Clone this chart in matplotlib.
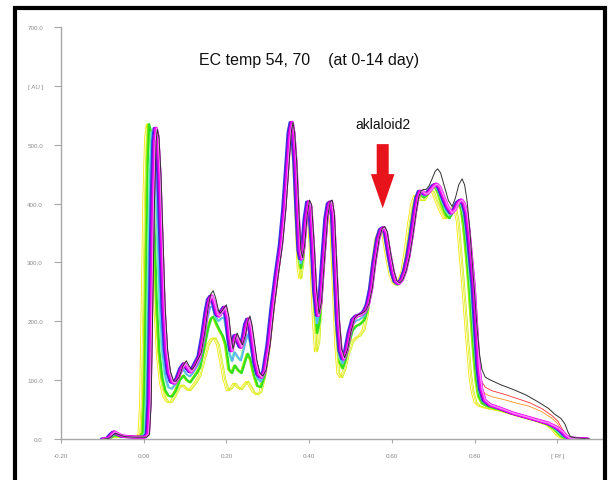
import numpy as np
import matplotlib.pyplot as plt
from matplotlib.patches import Rectangle, FancyArrow

plt.rcParams['font.family'] = ['Liberation Sans', 'DejaVu Sans']

# densitogram traces: (Rf, AU)
YELLOW = [(-0.100, 0), (-0.085, 1), (-0.070, 3), (-0.040, 3), (-0.020, 4), (-0.010, 8), (-0.006, 60),
          (-0.002, 240), (0.002, 410), (0.006, 510), (0.010, 535), (0.014, 520), (0.019, 450), (0.024, 330),
          (0.029, 220), (0.035, 140), (0.042, 95), (0.050, 72), (0.058, 63), (0.066, 62), (0.075, 72),
          (0.085, 86), (0.094, 92), (0.103, 86), (0.111, 82), (0.120, 90), (0.128, 98), (0.136, 108),
          (0.146, 135), (0.156, 160), (0.165, 170), (0.172, 172), (0.180, 160), (0.188, 130), (0.196, 100),
          (0.204, 82), (0.212, 86), (0.220, 95), (0.228, 88), (0.236, 84), (0.244, 92), (0.251, 98),
          (0.258, 90), (0.266, 80), (0.275, 75), (0.283, 80), (0.292, 105), (0.302, 150), (0.312, 215),
          (0.322, 272), (0.332, 328), (0.340, 395), (0.347, 470), (0.352, 525), (0.356, 535), (0.360, 515),
          (0.365, 455), (0.370, 370), (0.375, 290), (0.379, 272), (0.384, 295), (0.390, 355), (0.395, 390),
          (0.400, 378), (0.406, 300), (0.412, 200), (0.417, 148), (0.423, 165), (0.430, 250), (0.438, 350),
          (0.444, 390), (0.449, 395), (0.454, 365), (0.460, 260), (0.466, 160), (0.471, 112), (0.478, 104),
          (0.486, 118), (0.495, 145), (0.505, 165), (0.514, 172), (0.522, 175), (0.532, 185), (0.540, 210),
          (0.548, 255), (0.556, 305), (0.563, 340), (0.570, 352), (0.575, 353), (0.581, 343), (0.589, 308),
          (0.597, 280), (0.604, 266), (0.610, 262), (0.618, 268), (0.626, 285), (0.634, 320), (0.642, 365),
          (0.650, 400), (0.657, 414), (0.664, 413), (0.670, 405), (0.678, 405), (0.686, 415), (0.694, 423),
          (0.700, 420), (0.708, 405), (0.718, 388), (0.728, 374), (0.736, 378), (0.745, 392), (0.753, 395),
          (0.760, 370), (0.766, 320), (0.772, 270), (0.778, 215), (0.784, 160), (0.790, 110), (0.796, 80),
          (0.803, 62), (0.812, 56), (0.830, 52), (0.860, 48), (0.890, 42), (0.920, 36), (0.950, 30),
          (0.975, 24), (0.990, 16), (1.000, 7), (1.010, 2), (1.025, 0)]

GREEN = [(-0.100, 0), (-0.085, 1), (-0.075, 5), (-0.068, 6), (-0.055, 4), (-0.030, 3), (-0.010, 4),
         (-0.004, 10), (0.000, 80), (0.004, 280), (0.008, 470), (0.011, 535), (0.015, 525), (0.020, 460),
         (0.025, 345), (0.030, 230), (0.036, 150), (0.043, 105), (0.051, 82), (0.059, 73), (0.067, 72),
         (0.076, 82), (0.086, 100), (0.095, 108), (0.103, 100), (0.111, 96), (0.119, 104), (0.127, 112),
         (0.135, 122), (0.145, 155), (0.155, 190), (0.162, 205), (0.168, 208), (0.175, 195), (0.182, 185),
         (0.190, 175), (0.197, 160), (0.205, 118), (0.212, 112), (0.219, 125), (0.227, 117), (0.235, 112),
         (0.243, 130), (0.250, 145), (0.257, 135), (0.265, 110), (0.274, 90), (0.282, 88), (0.291, 108),
         (0.301, 155), (0.311, 220), (0.321, 276), (0.331, 330), (0.339, 392), (0.346, 465), (0.352, 528),
         (0.356, 537), (0.360, 518), (0.365, 462), (0.370, 380), (0.375, 305), (0.379, 290), (0.384, 310),
         (0.390, 365), (0.396, 398), (0.401, 388), (0.407, 315), (0.413, 225), (0.418, 180), (0.424, 200),
         (0.431, 275), (0.439, 362), (0.445, 396), (0.450, 400), (0.455, 373), (0.461, 275), (0.467, 180),
         (0.473, 130), (0.480, 120), (0.487, 135), (0.495, 162), (0.504, 185), (0.513, 192), (0.522, 195),
         (0.532, 202), (0.540, 220), (0.548, 258), (0.556, 302), (0.564, 340), (0.571, 354), (0.577, 357),
         (0.583, 347), (0.591, 312), (0.599, 282), (0.606, 266), (0.612, 262), (0.620, 268), (0.628, 285),
         (0.636, 313), (0.644, 352), (0.652, 392), (0.658, 412), (0.664, 419), (0.670, 414), (0.676, 410),
         (0.683, 414), (0.691, 422), (0.698, 428), (0.704, 428), (0.711, 418), (0.720, 398), (0.730, 380),
         (0.738, 375), (0.746, 385), (0.754, 398), (0.761, 400), (0.767, 390), (0.773, 360), (0.779, 315),
         (0.785, 265), (0.791, 205), (0.797, 145), (0.803, 98), (0.809, 72), (0.818, 60), (0.832, 55),
         (0.860, 50), (0.890, 43), (0.920, 37), (0.950, 31), (0.975, 25), (0.990, 18), (1.000, 11),
         (1.010, 4), (1.020, 1), (1.035, 0)]

CYAN = [(-0.100, 0), (-0.085, 1), (-0.075, 7), (-0.068, 8), (-0.055, 4), (-0.030, 3), (-0.005, 3),
        (0.003, 10), (0.007, 90), (0.011, 300), (0.015, 460), (0.019, 522), (0.023, 515), (0.028, 455),
        (0.033, 340), (0.038, 228), (0.044, 150), (0.051, 108), (0.059, 88), (0.067, 85), (0.076, 93),
        (0.086, 110), (0.095, 118), (0.103, 110), (0.111, 106), (0.119, 113), (0.127, 122), (0.135, 132),
        (0.144, 165), (0.153, 205), (0.160, 224), (0.166, 226), (0.173, 208), (0.180, 200), (0.187, 205),
        (0.194, 207), (0.201, 180), (0.207, 145), (0.213, 132), (0.219, 148), (0.226, 140), (0.234, 133),
        (0.242, 155), (0.250, 178), (0.257, 165), (0.264, 135), (0.273, 105), (0.282, 97), (0.291, 112),
        (0.301, 158), (0.311, 223), (0.321, 278), (0.331, 330), (0.339, 392), (0.346, 463), (0.352, 528),
        (0.356, 538), (0.360, 520), (0.365, 466), (0.370, 385), (0.375, 312), (0.379, 298), (0.384, 318),
        (0.390, 370), (0.396, 401), (0.401, 392), (0.407, 322), (0.413, 238), (0.418, 196), (0.424, 216),
        (0.431, 288), (0.439, 368), (0.445, 398), (0.450, 402), (0.455, 377), (0.461, 283), (0.467, 190),
        (0.473, 140), (0.480, 128), (0.487, 142), (0.495, 171), (0.504, 194), (0.513, 201), (0.522, 203),
        (0.532, 209), (0.540, 224), (0.548, 256), (0.556, 301), (0.565, 340), (0.572, 356), (0.578, 358),
        (0.584, 349), (0.592, 313), (0.600, 283), (0.607, 267), (0.613, 263), (0.621, 269), (0.629, 285),
        (0.637, 311), (0.645, 348), (0.653, 388), (0.659, 411), (0.665, 420), (0.671, 417), (0.677, 413),
        (0.684, 416), (0.692, 423), (0.699, 430), (0.705, 431), (0.712, 423), (0.721, 405), (0.731, 388),
        (0.740, 380), (0.748, 388), (0.756, 400), (0.764, 403), (0.770, 394), (0.776, 375), (0.782, 335),
        (0.788, 285), (0.794, 230), (0.800, 165), (0.806, 112), (0.812, 80), (0.820, 64), (0.834, 57),
        (0.860, 51), (0.890, 44), (0.920, 38), (0.950, 32), (0.975, 26), (0.990, 20), (1.000, 14),
        (1.010, 7), (1.020, 2), (1.035, 0)]

PURPLE_HEAD = [(-0.100, 0), (-0.088, 1), (-0.080, 8), (-0.073, 12), (-0.066, 9), (-0.055, 5), (-0.040, 4),
               (-0.020, 3), (0.000, 3), (0.008, 8), (0.012, 60), (0.016, 230), (0.020, 400), (0.024, 505),
               (0.027, 528), (0.031, 515), (0.036, 450), (0.041, 340), (0.046, 225), (0.052, 150),
               (0.059, 112), (0.066, 97), (0.072, 95), (0.080, 103), (0.089, 120), (0.097, 128), (0.104, 120),
               (0.111, 114), (0.118, 120), (0.126, 131), (0.133, 140), (0.142, 175), (0.150, 215), (0.156, 237),
               (0.162, 243), (0.168, 232), (0.175, 212), (0.180, 209), (0.186, 216), (0.194, 224), (0.200, 205),
               (0.205, 172), (0.210, 150), (0.215, 165), (0.220, 176), (0.226, 167), (0.233, 156), (0.240, 172),
               (0.246, 195), (0.251, 204), (0.256, 190), (0.262, 160), (0.268, 130), (0.275, 110), (0.282, 105),
               (0.290, 115), (0.300, 160), (0.310, 225), (0.320, 280), (0.330, 330), (0.338, 390), (0.345, 460),
               (0.351, 520), (0.356, 538), (0.360, 520), (0.365, 470), (0.370, 390), (0.375, 320), (0.379, 306),
               (0.384, 325), (0.390, 375), (0.396, 403), (0.401, 395), (0.407, 330), (0.413, 250), (0.419, 210),
               (0.425, 230), (0.432, 300), (0.440, 375), (0.446, 400), (0.451, 403), (0.456, 380), (0.462, 290),
               (0.468, 200), (0.474, 150), (0.481, 136), (0.488, 150), (0.496, 180), (0.505, 203), (0.513, 209),
               (0.522, 211), (0.532, 216), (0.540, 228), (0.548, 255), (0.556, 300), (0.565, 340), (0.572, 356),
               (0.578, 359), (0.584, 350), (0.592, 315), (0.600, 285), (0.607, 268), (0.614, 264), (0.622, 270),
               (0.630, 285), (0.638, 310), (0.646, 345), (0.654, 385), (0.660, 410), (0.666, 421), (0.672, 420),
               (0.678, 416), (0.685, 418), (0.693, 425), (0.700, 431), (0.706, 433), (0.713, 428), (0.722, 412),
               (0.732, 395), (0.742, 384), (0.750, 390), (0.758, 402), (0.766, 406), (0.772, 400), (0.778, 385),
               (0.784, 350), (0.790, 305), (0.796, 260), (0.802, 190)]
PURPLE_TAIL = [(0.808, 120), (0.814, 85), (0.822, 66), (0.835, 58), (0.860, 52), (0.890, 44), (0.920, 38),
               (0.950, 32), (0.975, 27), (0.990, 22), (1.000, 18), (1.010, 12), (1.018, 6), (1.026, 2),
               (1.040, 1), (1.070, 0)]
RED_TAIL = [(0.808, 125), (0.815, 98), (0.824, 88), (0.840, 82), (0.870, 76), (0.900, 69), (0.930, 62),
            (0.960, 52), (0.985, 40), (1.000, 30), (1.010, 17), (1.020, 6), (1.030, 2), (1.050, 0)]
ORANGE_TAIL = [(0.808, 115), (0.815, 88), (0.824, 77), (0.840, 72), (0.870, 67), (0.900, 61), (0.930, 56),
               (0.960, 47), (0.985, 36), (1.000, 26), (1.010, 14), (1.020, 5), (1.030, 1), (1.050, 0)]

BLACK = [(-0.100, 0), (-0.088, 1), (-0.080, 6), (-0.073, 10), (-0.066, 8), (-0.050, 4), (-0.020, 3),
         (0.003, 3), (0.010, 8), (0.014, 60), (0.018, 230), (0.022, 400), (0.026, 505), (0.029, 526),
         (0.033, 512), (0.038, 445), (0.043, 335), (0.048, 222), (0.054, 150), (0.061, 114), (0.068, 99),
         (0.074, 98), (0.082, 106), (0.091, 124), (0.099, 133), (0.106, 124), (0.113, 118), (0.120, 125),
         (0.128, 136), (0.135, 146), (0.144, 182), (0.152, 224), (0.158, 246), (0.164, 252), (0.170, 240),
         (0.177, 218), (0.182, 214), (0.188, 220), (0.196, 228), (0.202, 208), (0.207, 175), (0.212, 153),
         (0.217, 168), (0.222, 180), (0.228, 170), (0.235, 160), (0.242, 176), (0.248, 200), (0.253, 209),
         (0.258, 194), (0.264, 163), (0.270, 133), (0.277, 112), (0.284, 107), (0.292, 117), (0.302, 162),
         (0.312, 227), (0.322, 282), (0.332, 332), (0.340, 392), (0.347, 462), (0.353, 522), (0.357, 538),
         (0.361, 520), (0.366, 470), (0.371, 390), (0.376, 322), (0.380, 308), (0.385, 328), (0.391, 378),
         (0.397, 406), (0.402, 398), (0.408, 333), (0.414, 253), (0.420, 213), (0.426, 233), (0.433, 303),
         (0.441, 378), (0.447, 403), (0.452, 406), (0.457, 383), (0.463, 293), (0.469, 203), (0.475, 152),
         (0.482, 138), (0.489, 152), (0.497, 182), (0.506, 205), (0.514, 211), (0.523, 213), (0.533, 218),
         (0.541, 230), (0.549, 257), (0.557, 302), (0.566, 342), (0.573, 358), (0.579, 361), (0.585, 352),
         (0.593, 316), (0.601, 286), (0.608, 269), (0.615, 265), (0.623, 271), (0.631, 286), (0.639, 311),
         (0.647, 346), (0.655, 386), (0.661, 411), (0.667, 422), (0.673, 424), (0.679, 424), (0.686, 430),
         (0.694, 443), (0.701, 455), (0.707, 459), (0.714, 452), (0.723, 430), (0.733, 405), (0.742, 395),
         (0.750, 410), (0.758, 432), (0.766, 442), (0.772, 432), (0.778, 405), (0.784, 360), (0.790, 305),
         (0.796, 250), (0.802, 190), (0.808, 145), (0.814, 118), (0.822, 105), (0.835, 100), (0.860, 92),
         (0.890, 84), (0.920, 75), (0.950, 63), (0.975, 52), (0.990, 42), (1.005, 35), (1.015, 25),
         (1.022, 12), (1.028, 4), (1.040, 2), (1.075, 0)]

PURPLE = PURPLE_HEAD + PURPLE_TAIL
RED = PURPLE_HEAD + RED_TAIL
ORANGE = PURPLE_HEAD + ORANGE_TAIL

# (profile, rf offset, colour, line width) in drawing order
traces = [
    (YELLOW, -0.004, '#f5e600', 0.6),
    (YELLOW, 0.000, '#e4ee30', 0.6),
    (YELLOW, 0.003, '#d0ee10', 0.6),
    (GREEN, -0.002, '#b8f000', 0.7),
    (GREEN, 0.000, '#88f000', 1.2),
    (GREEN, 0.002, '#30e020', 1.5),
    (CYAN, -0.002, '#90f0a0', 0.7),
    (CYAN, 0.000, '#40d8d0', 0.9),
    (CYAN, 0.002, '#60b0ff', 0.9),
    (RED, 0.002, '#ff3030', 0.6),
    (ORANGE, 0.001, '#ff9020', 0.6),
    (PURPLE, -0.003, '#2838f0', 1.6),
    (PURPLE, 0.000, '#7a10c8', 2.2),
    (PURPLE, 0.003, '#ff00ff', 2.4),
    (PURPLE, 0.005, '#e040f0', 1.2),
    (PURPLE, 0.004, '#ff90ff', 0.8),
    (BLACK, 0.004, '#303030', 0.7),
]

y_ticks = [0, 100, 200, 300, 400, 500, 600, 700]
y_labels = ['0.0', '100.0', '200.0', '300.0', '400.0', '500.0', '[ AU ]', '700.0']
x_ticks = [-0.2, 0.0, 0.2, 0.4, 0.6, 0.8, 1.0]
x_labels = ['-0.20', '0.00', '0.20', '0.40', '0.60', '0.80', '[ Rf ]']

W, H = 609, 481
fig = plt.figure(figsize=(W / 100, H / 100), dpi=100)
ax = fig.add_axes([61 / W, 1 - 440 / H, 542 / W, 412 / H])

for prof, dx, col, lw in traces:
    pts = np.array(prof)
    ax.plot(pts[:, 0] + dx, pts[:, 1], color=col, lw=lw, solid_joinstyle='round')

ax.set_xlim(-0.2, -0.2 + 542 / 413.5)
ax.set_ylim(0, 700)
ax.set_yticks(y_ticks)
ax.set_yticklabels(y_labels)
ax.set_xticks(x_ticks)
ax.set_xticklabels(x_labels)
for s in ['top', 'right']:
    ax.spines[s].set_visible(False)
for s in ['left', 'bottom']:
    ax.spines[s].set_color('#a8a8a8')
    ax.spines[s].set_linewidth(1.0)
ax.tick_params(axis='y', length=5, color='#a8a8a8', labelsize=4.5, labelcolor='#8a8a8a', pad=8)
ax.tick_params(axis='x', length=3, color='#a8a8a8', labelsize=4.5, labelcolor='#8a8a8a', pad=7)

# red arrow pointing at the alkaloid band
ax.add_patch(FancyArrow(0.578, 501, 0, -109, width=0.029, head_width=0.057, head_length=58,
                        length_includes_head=True, color='#e8141c', lw=0))
ax.text(0.578, 535, 'aklaloid2', ha='center', va='center', fontsize=10, color='#111111')

fig.text(309 / W, 1 - 60 / H, 'EC temp 54, 70    (at 0-14 day)', ha='center', va='center',
         fontsize=11.5, color='#111111')

# thick black frame around the picture
fig.patches.append(Rectangle((14.5 / W, -0.05), 590 / W, 1 - 8.5 / H + 0.05, transform=fig.transFigure,
                             fill=False, ec='black', lw=3, zorder=10))

fig.savefig('out.png', dpi=100)
